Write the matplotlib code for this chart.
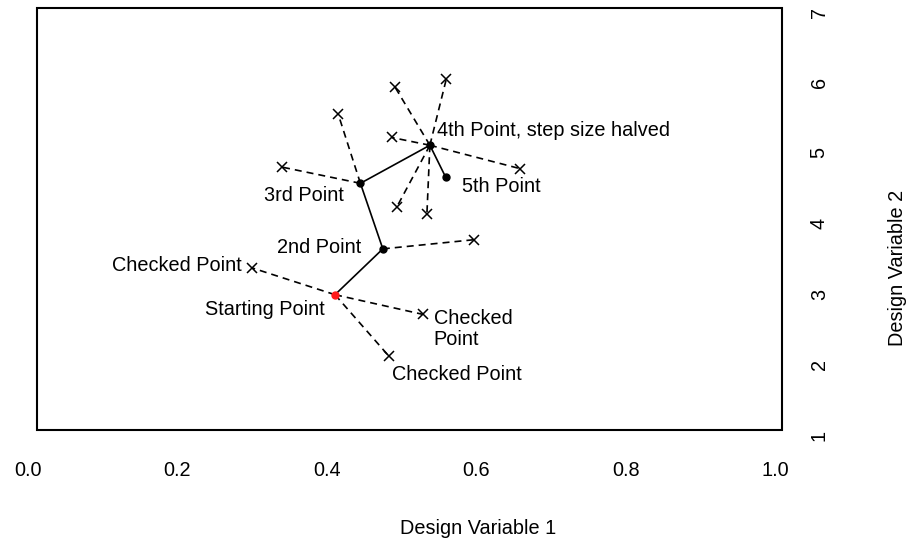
import matplotlib.pyplot as plt
from matplotlib.patches import Rectangle

plt.rcParams['font.family'] = ['Liberation Sans', 'DejaVu Sans']

# path of the search: start, 2nd, 3rd, 4th, 5th point
path_x = [0.411, 0.475, 0.445, 0.538, 0.559]
path_y = [2.99, 3.64, 4.57, 5.11, 4.66]
path_labels = ['Starting Point', '2nd Point', '3rd Point',
               '4th Point, step size halved', '5th Point']

# checked points, each tied to the path point it was tested from
check_from = [0, 0, 0, 1, 2, 2, 3, 3, 3, 3, 3, 3]
check_x = [0.300, 0.529, 0.483, 0.597, 0.415, 0.340,
           0.491, 0.560, 0.487, 0.658, 0.494, 0.534]
check_y = [3.37, 2.71, 2.12, 3.77, 5.56, 4.80,
           5.94, 6.05, 5.22, 4.78, 4.24, 4.13]
check_labels = {0: 'Checked Point', 1: 'Checked\nPoint', 2: 'Checked Point'}

xticks = [0.0, 0.2, 0.4, 0.6, 0.8, 1.0]
yticks = [1, 2, 3, 4, 5, 6, 7]

W, H = 921, 540
fig = plt.figure(figsize=(W / 100, H / 100), dpi=100)
ax = fig.add_axes([28 / W, 1 - 435 / H, 747 / W, 423 / H])
ax.set_xlim(0, 1)
ax.set_ylim(1, 7)
for s in ax.spines.values():
    s.set_visible(False)

# frame drawn separately, it is a bit off the tick positions
fig.patches.append(Rectangle((37 / W, 1 - 430 / H), 745 / W, 422 / H,
                             transform=fig.transFigure, fill=False,
                             edgecolor='black', linewidth=1.5))

# dashed lines to checked points
for i, cx, cy in zip(check_from, check_x, check_y):
    ax.plot([path_x[i], cx], [path_y[i], cy], color='black', lw=1.2,
            ls=(0, (4.2, 3)), zorder=2)
ax.plot(check_x, check_y, ls='none', marker='x', ms=7, mew=1.1,
        color='black', zorder=3)

# solid path
ax.plot(path_x, path_y, color='black', lw=1.2, zorder=2)
ax.plot(path_x[1:], path_y[1:], ls='none', marker='o', ms=5,
        color='black', zorder=4)
ax.plot(path_x[:1], path_y[:1], ls='none', marker='o', ms=5,
        color='#ff1a1a', zorder=4)

fs = 14.3
k = 0.72  # px -> points
path_off = [(-10, -15, 'right'), (-22, 1, 'right'), (-17, -12, 'right'),
            (7, 15, 'left'), (16, -10, 'left')]
for (dx, dy, ha), x, y, lab in zip(path_off, path_x, path_y, path_labels):
    ax.annotate(lab, (x, y), xytext=(dx * k, dy * k), textcoords='offset points',
                ha=ha, va='center', fontsize=fs)

check_off = {0: (-10.6, 2.7, 'right'), 1: (10.7, -14.4, 'left'), 2: (3, -18, 'left')}
for j, lab in check_labels.items():
    dx, dy, ha = check_off[j]
    ax.annotate(lab, (check_x[j], check_y[j]), xytext=(dx * k, dy * k),
                textcoords='offset points', ha=ha, va='center', fontsize=fs,
                linespacing=1.1)

ax.set_xticks(xticks)
ax.set_xticklabels([f'{v:.1f}' for v in xticks])
ax.set_yticks(yticks)
ax.yaxis.tick_right()
ax.set_yticklabels([str(v) for v in yticks], rotation=90, va='center')
ax.tick_params(axis='x', length=0, pad=19, labelsize=fs)
ax.tick_params(axis='y', length=0, pad=25, labelsize=fs)

fig.text(478 / W, 1 - 528 / H, 'Design Variable 1', ha='center', va='center',
         fontsize=fs)
fig.text(897 / W, 1 - 268 / H, 'Design Variable 2', ha='center', va='center',
         fontsize=fs, rotation=90)

fig.savefig('out.png', dpi=100)
